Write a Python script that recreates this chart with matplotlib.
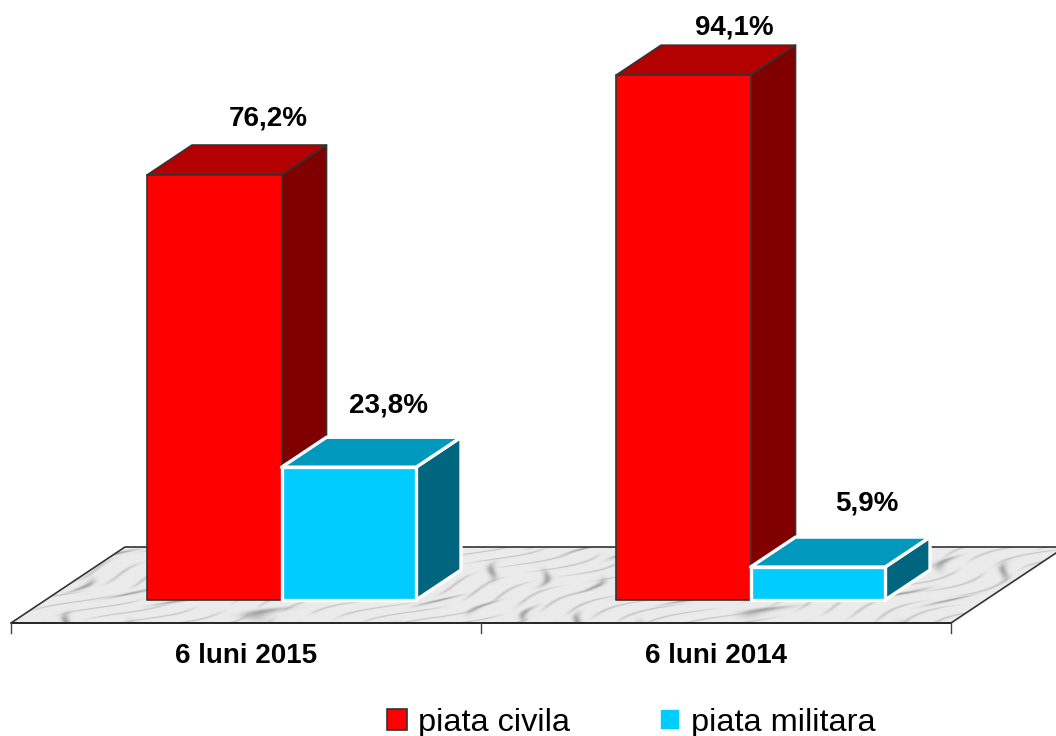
import matplotlib.pyplot as plt
import numpy as np
from matplotlib.patches import Patch, Polygon

plt.rcParams['font.family'] = ['Liberation Sans', 'DejaVu Sans']

categories = ["6 luni 2015", "6 luni 2014"]
civila = [76.2, 94.1]
militara = [23.8, 5.9]
civila_labels = ["76,2%", "94,1%"]
militara_labels = ["23,8%", "5,9%"]

RED = ("#ff0000", "#b30000", "#800000")
BLUE = ("#00ccff", "#0099bd", "#006680")

# one category is 470 px wide, one percent is 5.577 px high
PX_X = 470.0
PX_Y = 5.577
BAR_W = 134.5 / PX_X
DEPTH_X = 45 / PX_X
DEPTH_Y = 30 / PX_Y
FRONT_Y = -23 / PX_Y
BACK_Y = 53 / PX_Y
FLOOR_DX = 114 / PX_X


def draw_bar(ax, left, height, colors, edge, lw, z):
    right = left + BAR_W
    front = [(left, 0), (right, 0), (right, height), (left, height)]
    top = [(left, height), (right, height), (right + DEPTH_X, height + DEPTH_Y), (left + DEPTH_X, height + DEPTH_Y)]
    side = [(right, 0), (right + DEPTH_X, DEPTH_Y), (right + DEPTH_X, height + DEPTH_Y), (right, height)]
    ax.add_patch(Polygon(side, fc=colors[2], ec=edge, lw=lw, zorder=z, joinstyle='round'))
    ax.add_patch(Polygon(top, fc=colors[1], ec=edge, lw=lw, zorder=z, joinstyle='round'))
    ax.add_patch(Polygon(front, fc=colors[0], ec=edge, lw=lw, zorder=z + 0.1, joinstyle='round'))


def draw_floor(ax):
    corners = [(0, FRONT_Y), (2, FRONT_Y), (2 + FLOOR_DX, BACK_Y), (FLOOR_DX, BACK_Y)]
    outline = Polygon(corners, fc='none', ec='#333333', lw=1.2, zorder=2)
    ax.add_patch(outline)

    # marble look: soft diagonal veins, only a texture
    xx, yy = np.meshgrid(np.linspace(0, 1056, 1056), np.linspace(0, 76, 76))
    wave = np.sin((xx - 2.4 * yy) / 27 + 1.8 * np.sin(xx / 83) + 0.9 * np.sin(yy / 8))
    fine = np.sin((xx - 3.1 * yy) / 13 + 1.3 * np.sin(xx / 47 + yy / 12))
    broken = (0.5 + 0.5 * np.sin(xx / 41 + yy / 6)) ** 2
    veins = np.exp(-(wave / 0.22) ** 2) * broken + 0.5 * np.exp(-(fine / 0.25) ** 2) * (1 - broken)
    marble = 0.92 - 0.27 * veins
    im = ax.imshow(marble, cmap='gray', vmin=0, vmax=1, aspect='auto', interpolation='bilinear',
                   extent=(0, 2 + FLOOR_DX, FRONT_Y, BACK_Y), origin='lower', zorder=1)
    im.set_clip_path(outline)


fig = plt.figure(figsize=(10.56, 7.36), dpi=100)
ax = fig.add_axes([0, 0, 1, 1])

draw_floor(ax)

# axis line with ticks
ax.plot([0, 2], [FRONT_Y, FRONT_Y], color='#222222', lw=1.2, zorder=3)
for t in range(3):
    ax.plot([t, t], [FRONT_Y, FRONT_Y - 10 / PX_Y], color='#444444', lw=1.0, zorder=3)

starts = [136 / PX_X, 605 / PX_X]
civila_offsets = [(54, 57), (51, 48)]
militara_offsets = [(40, 62), (49, 64)]

for i in range(len(categories)):
    draw_bar(ax, starts[i], civila[i], RED, '#333333', 1.2, 4 + i * 2)
    draw_bar(ax, starts[i] + BAR_W, militara[i], BLUE, 'white', 2.4, 5 + i * 2)

    ax.annotate(civila_labels[i], (starts[i] + BAR_W / 2, civila[i]), xytext=(civila_offsets[i][0] * 0.72, civila_offsets[i][1] * 0.72),
                textcoords='offset points', ha='center', va='center', fontsize=20, fontweight='bold', zorder=10)
    ax.annotate(militara_labels[i], (starts[i] + 1.5 * BAR_W, militara[i]), xytext=(militara_offsets[i][0] * 0.72, militara_offsets[i][1] * 0.72),
                textcoords='offset points', ha='center', va='center', fontsize=20, fontweight='bold', zorder=10)
    ax.text(i + 0.5, FRONT_Y - 33 / PX_Y, categories[i], ha='center', va='center', fontsize=20, fontweight='bold')

handles = [Patch(fc=RED[0], ec='#333333', lw=1.2), Patch(fc=BLUE[0], ec='white', lw=1.2)]
ax.legend(handles, ["piata civila", "piata militara"], ncol=2, frameon=False, fontsize=23.4,
          loc='center', bbox_to_anchor=(0.598, 0.018), handlelength=0.62, handleheight=0.62,
          handletextpad=0.34, columnspacing=2.75, borderpad=0, borderaxespad=0)

ax.set_xlim(-11 / PX_X, 1045 / PX_X)
ax.set_ylim(-136 / PX_Y, 600 / PX_Y)
ax.axis('off')

plt.savefig("out.png", dpi=100)
plt.close()
